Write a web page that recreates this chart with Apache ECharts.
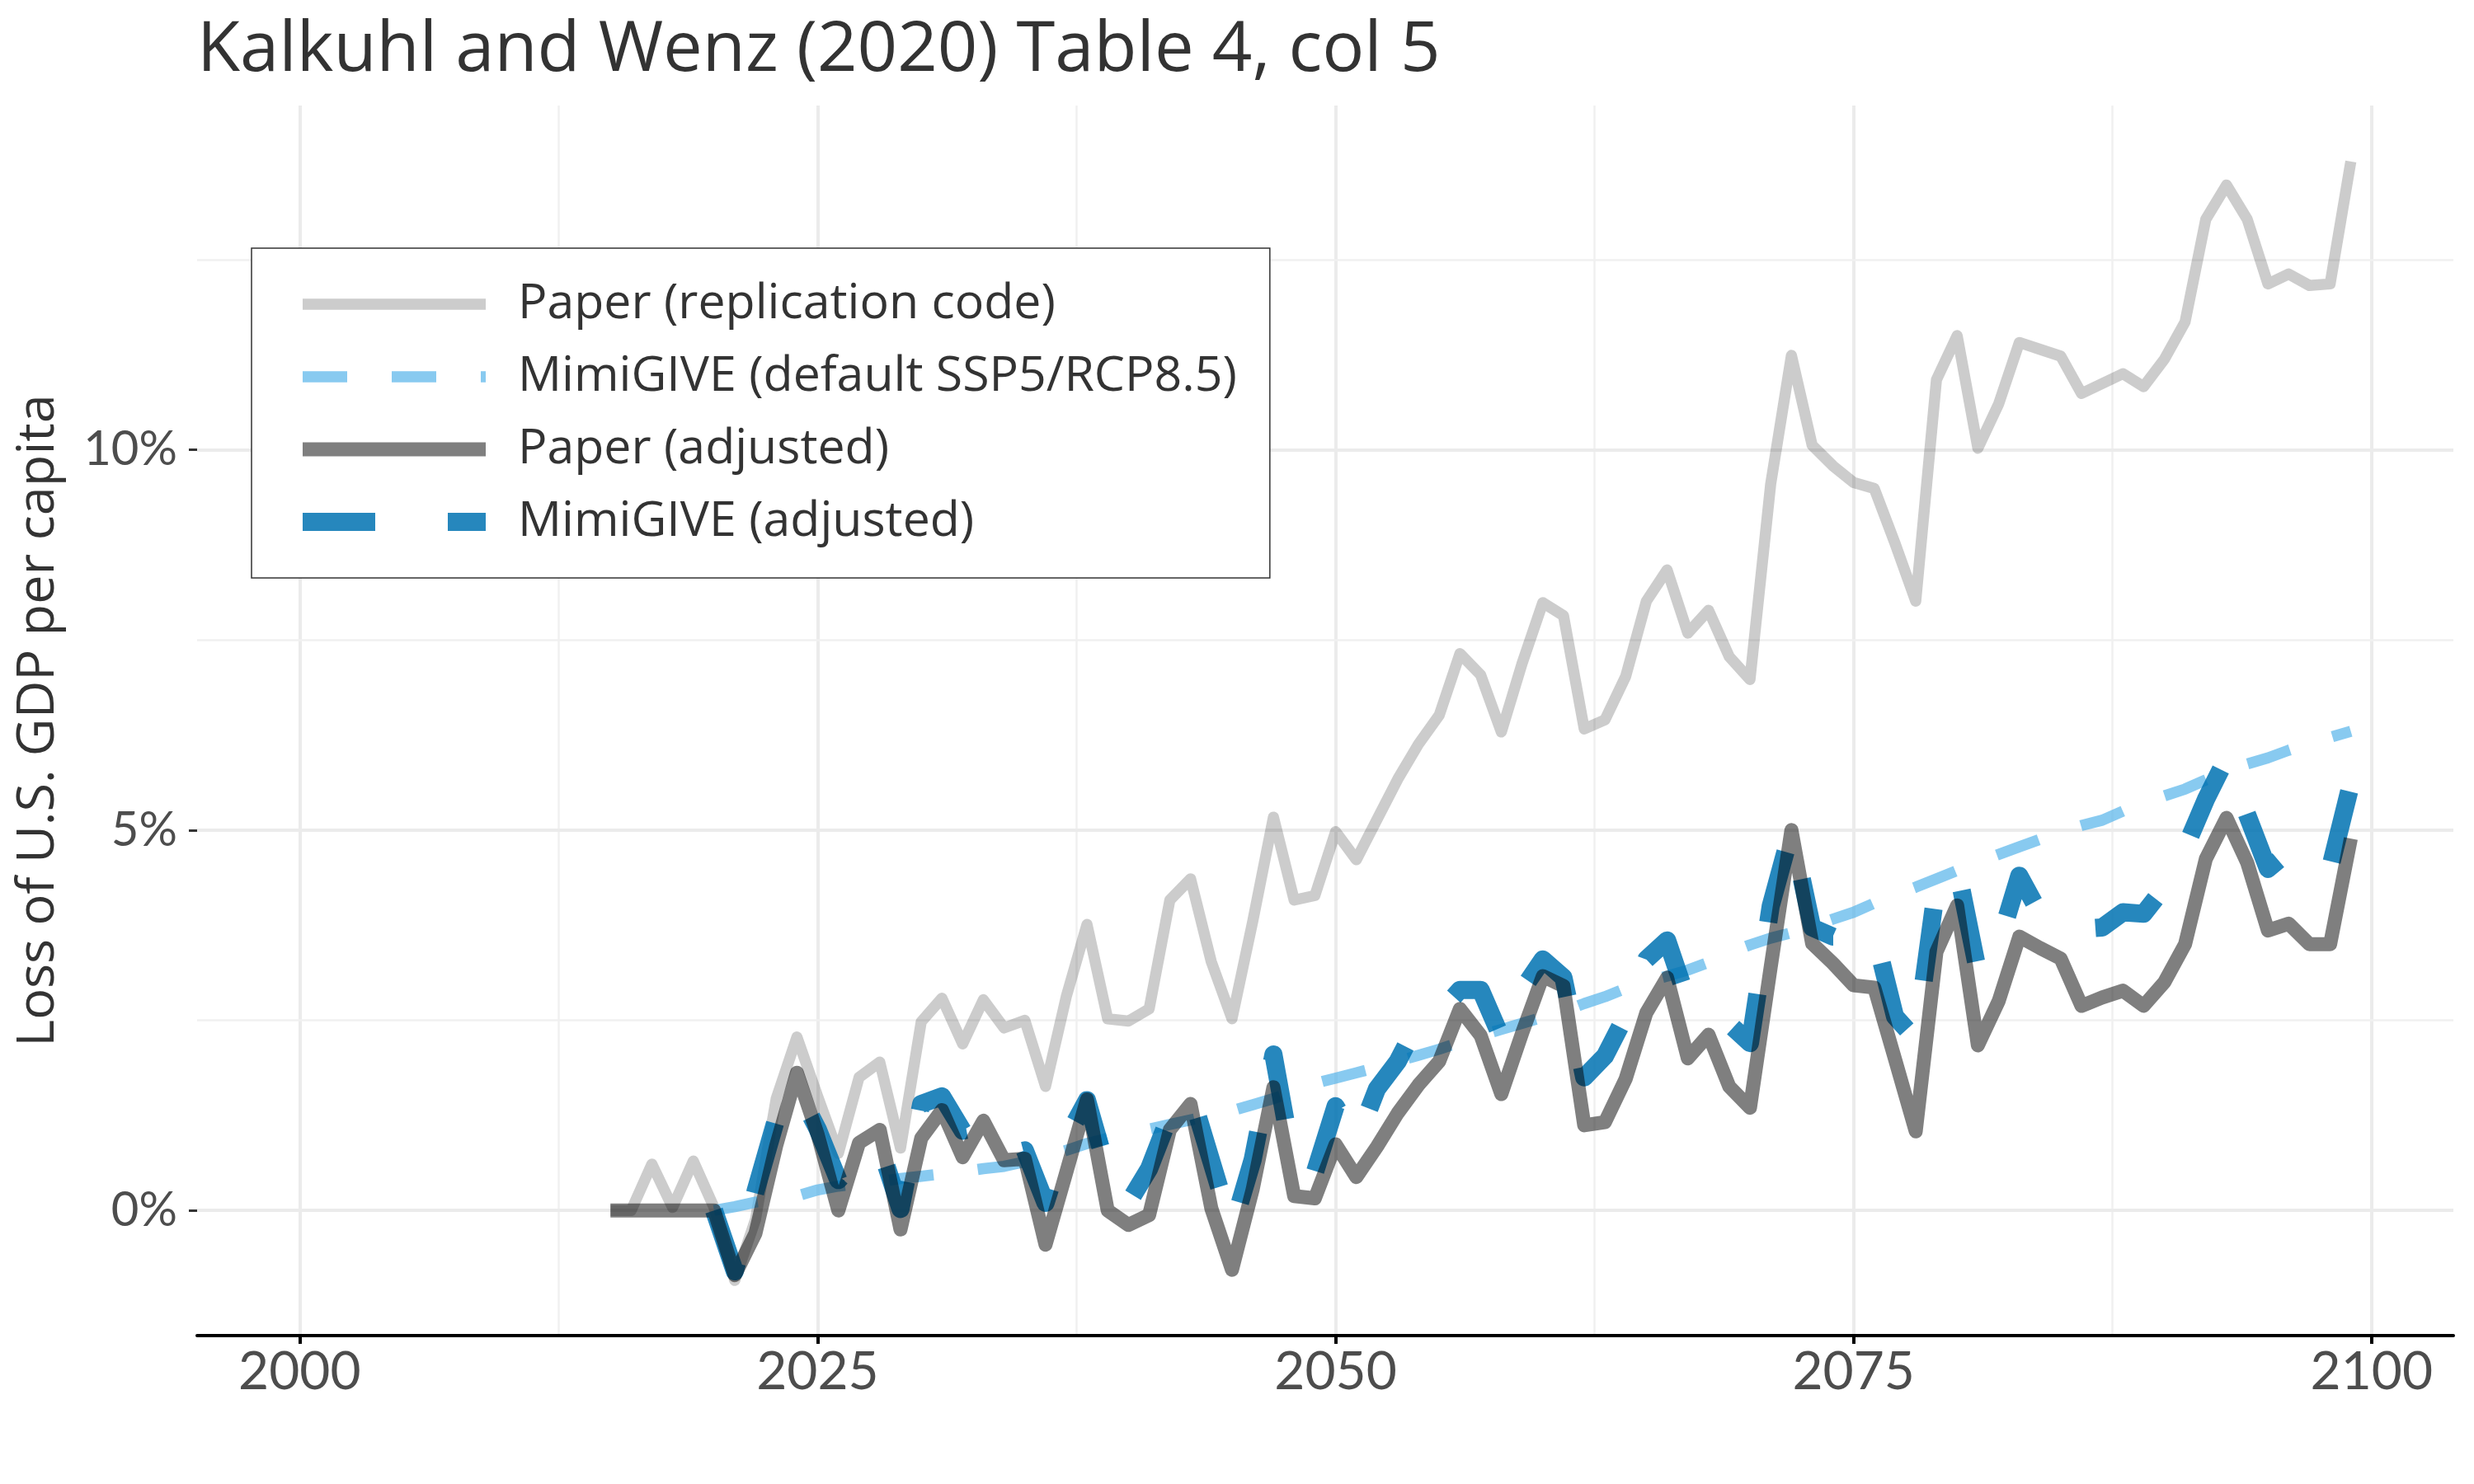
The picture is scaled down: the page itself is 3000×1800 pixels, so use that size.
<!DOCTYPE html>
<html>
<head>
    <meta charset="utf-8">
    <title>Kalkuhl and Wenz (2020) Table 4, col 5</title>
    <script src="https://cdn.jsdelivr.net/npm/echarts@6.0.0/dist/echarts.min.js"></script>
    <style>
        html, body {
            margin: 0;
            width: 100%;
            height: 100%;
            background: #fff;
        }

        #main {
            width: 3000px;
            height: 1800px;
        }
    </style>
</head>
<body>
<div id="main"></div>
<script type="text/javascript">
    // values, % loss of U.S. GDP per capita
    const paperStart = 2015;
    const mimiStart = 2020;

    // Paper (replication code), 2015-2099
    const paperReplication = [
        0.00, 0.00, 0.61, 0.04, 0.65, 0.04, -0.92, -0.12, 1.47, 2.28,
        1.50, 0.75, 1.75, 1.95, 0.82, 2.48, 2.79, 2.19, 2.77, 2.40,
        2.50, 1.63, 2.81, 3.76, 2.52, 2.49, 2.65, 4.08, 4.36, 3.27,
        2.52, 3.80, 5.17, 4.08, 4.14, 4.98, 4.61, 5.14, 5.67, 6.13,
        6.51, 7.32, 7.04, 6.29, 7.19, 7.99, 7.82, 6.33, 6.45, 7.02,
        8.01, 8.42, 7.59, 7.89, 7.28, 6.98, 9.55, 11.24, 10.06, 9.79,
        9.57, 9.49, 8.77, 8.01, 10.92, 11.50, 10.02, 10.60, 11.41, 11.32,
        11.23, 10.74, 10.87, 11.00, 10.83, 11.19, 11.68, 13.03, 13.48, 13.03,
        12.18, 12.31, 12.16, 12.18, 13.79
    ];

    // Paper (adjusted), 2015-2099
    const paperAdjusted = [
        0.00, 0.00, 0.00, 0.00, 0.00, 0.00, -0.85, -0.30, 0.85, 1.81,
        1.00, 0.00, 0.89, 1.06, -0.25, 0.95, 1.32, 0.70, 1.18, 0.66,
        0.68, -0.45, 0.50, 1.46, 0.00, -0.19, -0.06, 1.06, 1.40, 0.03,
        -0.78, 0.28, 1.62, 0.19, 0.16, 0.87, 0.44, 0.84, 1.28, 1.65,
        1.96, 2.65, 2.30, 1.53, 2.33, 3.08, 2.95, 1.12, 1.16, 1.73,
        2.60, 3.06, 2.00, 2.31, 1.63, 1.35, 3.20, 5.00, 3.51, 3.25,
        2.96, 2.93, 1.99, 1.04, 3.40, 4.01, 2.17, 2.75, 3.60, 3.45,
        3.31, 2.69, 2.80, 2.89, 2.69, 3.00, 3.50, 4.62, 5.16, 4.57,
        3.68, 3.77, 3.50, 3.50, 4.89
    ];

    // MimiGIVE (default SSP5/RCP8.5), 2020-2099
    const mimiDefault = [
        0.00, 0.05, 0.11, 0.15, 0.19, 0.27, 0.32, 0.35, 0.38, 0.42,
        0.45, 0.48, 0.51, 0.55, 0.58, 0.64, 0.71, 0.79, 0.88, 0.95,
        1.01, 1.07, 1.13, 1.19, 1.25, 1.31, 1.39, 1.47, 1.57, 1.67,
        1.74, 1.81, 1.88, 1.96, 2.04, 2.12, 2.21, 2.30, 2.38, 2.46,
        2.54, 2.62, 2.72, 2.81, 2.92, 3.01, 3.08, 3.16, 3.26, 3.39,
        3.49, 3.58, 3.65, 3.74, 3.83, 3.92, 4.04, 4.15, 4.25, 4.36,
        4.47, 4.58, 4.68, 4.78, 4.88, 4.98, 5.06, 5.13, 5.25, 5.36,
        5.45, 5.54, 5.66, 5.78, 5.87, 5.95, 6.05, 6.14, 6.22, 6.30
    ];

    // MimiGIVE (adjusted), 2020-2099
    const mimiAdjusted = [
        0.00, -0.80, 0.25, 1.20, 1.60, 1.07, 0.40, 0.70, 0.85, 0.02,
        1.40, 1.50, 1.05, 1.10, 0.72, 0.79, 0.10, 0.95, 1.45, 0.50,
        0.10, 0.55, 1.25, 1.55, 0.65, -0.25, 0.67, 2.05, 0.55, 0.50,
        1.37, 0.90, 1.60, 1.96, 2.49, 2.60, 2.90, 2.90, 2.27, 2.90,
        3.30, 3.06, 1.75, 2.03, 2.56, 3.30, 3.55, 2.75, 2.60, 2.45,
        2.20, 4.00, 5.00, 3.72, 3.60, 3.60, 3.65, 2.55, 2.25, 4.25,
        4.50, 3.15, 3.50, 4.40, 3.90, 3.72, 3.70, 3.72, 3.92, 3.90,
        4.25, 4.76, 5.40, 5.95, 5.20, 4.49, 4.72, 4.80, 4.50, 5.60
    ];

    const xTicks = [2000, 2025, 2050, 2075, 2100];
    const xMinorGrid = [2012.5, 2037.5, 2062.5, 2087.5];
    const yTicks = [0, 5, 10];
    const yMinorGrid = [2.5, 7.5, 12.5];

    const font = 'Lato';
    const textFont = 'Open Sans';

    function toPairs(start, values) {
        return values.map((v, i) => [start + i, v]);
    }

    var myChart = echarts.init(document.getElementById('main'));

    const majorGrid = {color: '#EBEBEB', width: 4, type: 'solid'};
    const minorGrid = {color: '#F0F0F0', width: 2.5, type: 'solid'};
    const gridLines = []
        .concat(xTicks.map(v => ({xAxis: v, lineStyle: majorGrid})))
        .concat(xMinorGrid.map(v => ({xAxis: v, lineStyle: minorGrid})))
        .concat(yTicks.map(v => ({yAxis: v, lineStyle: majorGrid})))
        .concat(yMinorGrid.map(v => ({yAxis: v, lineStyle: minorGrid})));

    function lineSeries(name, start, values, color, width, dash) {
        return {
            name: name,
            type: 'line',
            data: toPairs(start, values),
            symbol: 'none',
            showSymbol: false,
            color: color,
            z: 3,
            lineStyle: {
                color: color,
                width: width,
                type: dash || 'solid',
                cap: 'butt',
                join: 'round'
            },
            emphasis: {disabled: true},
            silent: true
        };
    }

    var option = {
        animation: false,
        backgroundColor: '#fff',
        title: {
            text: 'Kalkuhl and Wenz (2020) Table 4, col 5',
            left: 234,
            top: 14,
            textStyle: {
                fontFamily: textFont,
                fontSize: 85,
                fontWeight: 'normal',
                color: '#333'
            }
        },
        legend: {
            orient: 'vertical',
            left: 305,
            top: 301,
            data: ['Paper (replication code)', 'MimiGIVE (default SSP5/RCP8.5)',
                'Paper (adjusted)', 'MimiGIVE (adjusted)'],
            itemWidth: 222,
            itemHeight: 30,
            itemGap: 28,
            padding: [38, 40, 38, 51],
            borderColor: '#333',
            borderWidth: 1.5,
            backgroundColor: '#fff',
            selectedMode: false,
            textStyle: {
                fontFamily: textFont,
                fontSize: 59,
                lineHeight: 60,
                color: '#333',
                padding: [0, 0, 0, 34]
            },
            lineStyle: {width: 'inherit'},
            itemStyle: {opacity: 0}
        },
        grid: {
            left: 239,
            right: 25,
            top: 128,
            bottom: 180
        },
        xAxis: {
            type: 'value',
            min: 1995.05,
            max: 2103.95,
            axisLine: {show: true, onZero: false, lineStyle: {color: '#000', width: 4}},
            axisTick: {show: true, customValues: xTicks, length: 10, lineStyle: {color: '#000', width: 4}},
            axisLabel: {
                customValues: xTicks,
                formatter: v => String(v),
                fontFamily: font,
                fontSize: 64,
                color: '#4D4D4D',
                margin: 12
            },
            splitLine: {show: false}
        },
        yAxis: {
            type: 'value',
            min: -1.645,
            max: 14.525,
            name: 'Loss of U.S. GDP per capita',
            nameLocation: 'middle',
            nameGap: 160,
            nameTextStyle: {fontFamily: textFont, fontSize: 63, color: '#333'},
            axisLine: {show: false},
            axisTick: {show: true, customValues: yTicks, length: 10, lineStyle: {color: '#333', width: 3}},
            axisLabel: {
                customValues: yTicks,
                formatter: v => v + '%',
                fontFamily: font,
                fontSize: 58,
                color: '#4D4D4D',
                margin: 24
            },
            splitLine: {show: false}
        },
        series: [
            {
                name: 'grid',
                type: 'line',
                data: [],
                z: 0,
                silent: true,
                markLine: {
                    z: 0,
                    silent: true,
                    symbol: ['none', 'none'],
                    label: {show: false},
                    emphasis: {disabled: true},
                    data: gridLines
                }
            },
            lineSeries('Paper (replication code)', paperStart, paperReplication, 'rgba(0,0,0,0.2)', 13.5),
            lineSeries('MimiGIVE (default SSP5/RCP8.5)', mimiStart, mimiDefault, 'rgba(86,180,233,0.7)', 13.5, [54, 54]),
            lineSeries('MimiGIVE (adjusted)', mimiStart, mimiAdjusted, 'rgba(0,114,178,0.85)', 22, [88, 88]),
            lineSeries('Paper (adjusted)', paperStart, paperAdjusted, 'rgba(0,0,0,0.5)', 17)
        ]
    };

    myChart.setOption(option);
</script>
</body>
</html>
